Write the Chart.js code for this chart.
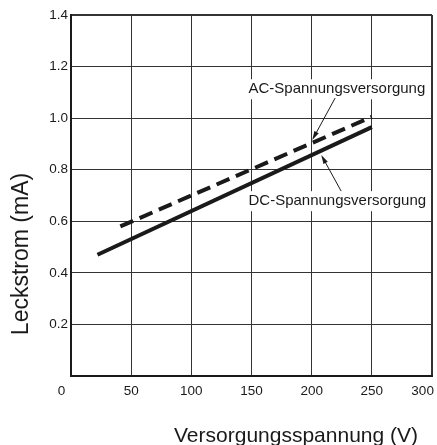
<!DOCTYPE html>
<html>
<head>
<meta charset="utf-8">
<title>Leckstrom</title>
<script src="https://cdn.jsdelivr.net/npm/chart.js@4.4.1/dist/chart.umd.min.js"></script>
<style>
    html, body { margin: 0; padding: 0; background: #fff; }
</style>
</head>
<body>
<canvas id="leakChart" width="437" height="445"></canvas>
<script>
// Chart data
const voltTicks = [0, 50, 100, 150, 200, 250, 300];
const voltLabels = ['0', '50', '100', '150', '200', '250', '300'];
const leakTicks = [0, 0.2, 0.4, 0.6, 0.8, 1.0, 1.2, 1.4];
const leakLabels = ['', '0.2', '0.4', '0.6', '0.8', '1.0', '1.2', '1.4'];

const acVolts = [41, 250];
const acLeak = [0.58, 1.005];
const dcVolts = [22, 250];
const dcLeak = [0.47, 0.965];

const FONT = 'Liberation Sans, Arial, Helvetica, sans-serif';
const INK = '#1a1a1a';

Chart.defaults.font.family = FONT;
Chart.defaults.font.size = 13.5;
Chart.defaults.color = INK;

// Callouts: text anchor and arrow tail/tip in data units
const notes = [
    { text: 'AC-Spannungsversorgung', at: [147.5, 1.112], from: [219.5, 1.078], to: [200.5, 0.915] },
    { text: 'DC-Spannungsversorgung', at: [147.5, 0.678], from: [224.5, 0.717], to: [208, 0.857] }
];

function toPoints(xs, ys) {
    return xs.map((v, i) => ({ x: v, y: ys[i] }));
}

// Axis titles and the two labelled arrows
const extrasPlugin = {
    id: 'extras',
    afterDraw(chart) {
        const ctx = chart.ctx;
        const area = chart.chartArea;
        const xs = chart.scales.x;
        const ys = chart.scales.y;
        ctx.save();

        ctx.fillStyle = INK;
        ctx.font = '21px ' + FONT;
        ctx.textAlign = 'right';
        ctx.textBaseline = 'alphabetic';
        ctx.fillText('Versorgungsspannung (V)', area.right - 14, chart.height - 3);

        ctx.save();
        ctx.translate(22, area.bottom - 122);
        ctx.rotate(-Math.PI / 2);
        ctx.font = '23px ' + FONT;
        ctx.textAlign = 'center';
        ctx.textBaseline = 'middle';
        ctx.fillText('Leckstrom (mA)', 0, 0);
        ctx.restore();

        ctx.font = '15px ' + FONT;
        notes.forEach(n => {
            const tx = xs.getPixelForValue(n.at[0]);
            const ty = ys.getPixelForValue(n.at[1]);
            const w = ctx.measureText(n.text).width;
            ctx.fillStyle = '#fff';
            ctx.fillRect(tx - 2, ty - 10, w + 4, 20);
            ctx.fillStyle = INK;
            ctx.textAlign = 'left';
            ctx.textBaseline = 'middle';
            ctx.fillText(n.text, tx, ty);

            // leader line with arrow head
            const x1 = xs.getPixelForValue(n.from[0]), y1 = ys.getPixelForValue(n.from[1]);
            const x2 = xs.getPixelForValue(n.to[0]), y2 = ys.getPixelForValue(n.to[1]);
            const ang = Math.atan2(y2 - y1, x2 - x1);
            ctx.strokeStyle = INK;
            ctx.lineWidth = 1;
            ctx.beginPath();
            ctx.moveTo(x1, y1);
            ctx.lineTo(x2 - Math.cos(ang) * 6, y2 - Math.sin(ang) * 6);
            ctx.stroke();
            ctx.beginPath();
            ctx.moveTo(x2, y2);
            ctx.lineTo(x2 - Math.cos(ang) * 9 + Math.sin(ang) * 2.5, y2 - Math.sin(ang) * 9 - Math.cos(ang) * 2.5);
            ctx.lineTo(x2 - Math.cos(ang) * 9 - Math.sin(ang) * 2.5, y2 - Math.sin(ang) * 9 + Math.cos(ang) * 2.5);
            ctx.closePath();
            ctx.fill();
        });

        ctx.restore();
    }
};

const lineChart = document.getElementById('leakChart');
new Chart(lineChart.getContext('2d'), {
    type: 'line',
    data: {
        datasets: [
            {
                label: 'AC-Spannungsversorgung',
                data: toPoints(acVolts, acLeak),
                borderColor: INK,
                borderWidth: 4,
                borderDash: [14, 7],
                pointRadius: 0,
                fill: false
            },
            {
                label: 'DC-Spannungsversorgung',
                data: toPoints(dcVolts, dcLeak),
                borderColor: INK,
                borderWidth: 4,
                pointRadius: 0,
                fill: false
            }
        ]
    },
    options: {
        responsive: false,
        animation: false,
        devicePixelRatio: 1,
        layout: { padding: { top: 15, right: 5, left: 0, bottom: 0 } },
        plugins: {
            legend: { display: false },
            tooltip: { enabled: false }
        },
        scales: {
            x: {
                type: 'linear',
                min: 0,
                max: 300,
                afterBuildTicks: s => { s.ticks = voltTicks.map(v => ({ value: v })); },
                afterFit: s => { s.height = 69; s.paddingLeft = 0; s.paddingRight = 0; },
                grid: {
                    color: '#333',
                    lineWidth: c => (c.index === voltTicks.length - 1 ? 2 : 1),
                    drawTicks: false
                },
                border: { color: INK, width: 2 },
                ticks: {
                    color: INK,
                    font: { family: FONT, size: 13.5 },
                    padding: 7,
                    maxRotation: 0,
                    autoSkip: false,
                    // end labels sit a little left of their grid lines, like the original
                    callback: (v, i) => (i === 0 || i === voltLabels.length - 1) ? voltLabels[i] + '     ' : voltLabels[i]
                }
            },
            y: {
                type: 'linear',
                min: 0,
                max: 1.4,
                afterBuildTicks: s => { s.ticks = leakTicks.map(v => ({ value: v })); },
                afterFit: s => { s.width = 71; s.paddingTop = 0; s.paddingBottom = 0; },
                grid: {
                    color: '#333',
                    lineWidth: c => (c.index === leakTicks.length - 1 ? 2 : 1),
                    drawTicks: false
                },
                border: { color: INK, width: 2 },
                ticks: {
                    color: INK,
                    font: { family: FONT, size: 13.5 },
                    padding: 3,
                    autoSkip: false,
                    callback: (v, i) => leakLabels[i]
                }
            }
        }
    },
    plugins: [extrasPlugin]
});
</script>
</body>
</html>
